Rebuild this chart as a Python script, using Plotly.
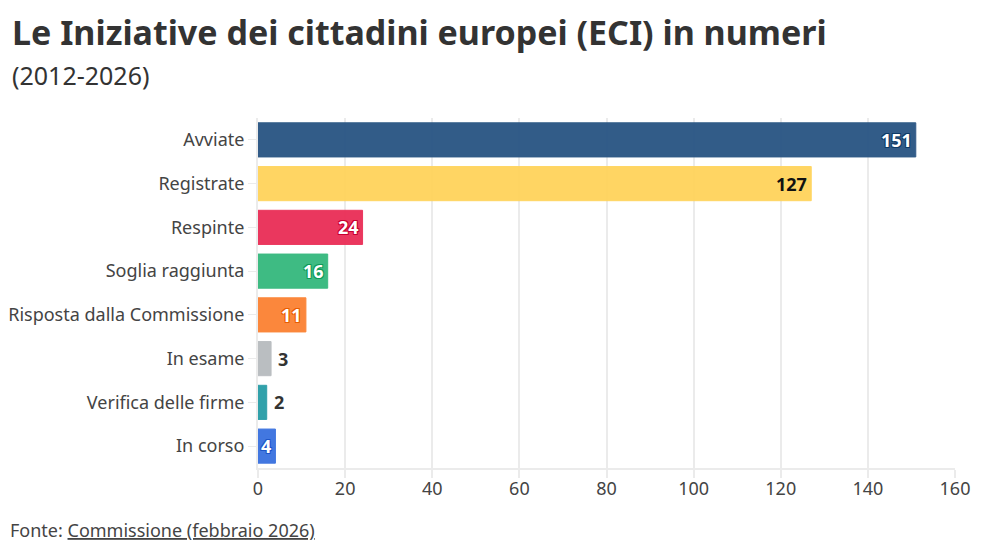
import plotly.graph_objects as go

categories = ["Avviate", "Registrate", "Respinte", "Soglia raggiunta",
              "Risposta dalla Commissione", "In esame", "Verifica delle firme", "In corso"]
values = [151, 127, 24, 16, 11, 3, 2, 4]
colors = ["#2c5785", "#ffd45e", "#ea3159", "#38b97f", "#fb8436", "#b8bcc0", "#2b9ea8", "#3c73e0"]
label_colors = ["#ffffff", "#111111", "#ffffff", "#ffffff", "#ffffff", "#333333", "#333333", "#ffffff"]
label_shadows = ["#0d3a66", "none", "#c8002f", "#0f9a58", "#e85d00", "none", "none", "#1d55c8"]
label_inside = [True, True, True, True, True, False, False, True]
x_ticks = [0, 20, 40, 60, 80, 100, 120, 140, 160]

FONT = "Noto Sans"
W, H = 979, 545          # page body has an 8px margin inside the 987x553 window
L, R, T, B = 250, 32, 110, 85
PW, PH = W - L - R, H - T - B

fig = go.Figure(go.Bar(
    x=values, y=categories, orientation="h",
    marker=dict(color=colors, line=dict(color=colors, width=1)),
    opacity=0.97,
    hoverinfo="skip",
))

annotations = []
for c, v, lc, sh, ins in zip(categories, values, label_colors, label_shadows, label_inside):
    s = sh
    if sh != "none":
        s = f"1px 1px 0 {sh}, -1px -1px 0 {sh}, 1px -1px 0 {sh}, -1px 1px 0 {sh}"
    annotations.append(dict(
        x=v, y=c, xref="x", yref="y", text=f"<b>{v}</b>", showarrow=False,
        xanchor="right" if ins else "left", xshift=-2 if ins else 5,
        font=dict(family=FONT, size=18, color=lc, shadow=s),
    ))

def px_x(px):
    return (px - L) / PW

def px_y(py):
    return (H - B - py) / PH

annotations.append(dict(
    text="<b>Le Iniziative dei cittadini europei (ECI) in numeri</b>",
    xref="paper", yref="paper", x=px_x(2), y=px_y(24), xanchor="left", yanchor="middle",
    showarrow=False, font=dict(family=FONT, size=34, color="#333333"),
))
annotations.append(dict(
    text="(2012-2026)",
    xref="paper", yref="paper", x=px_x(2), y=px_y(67), xanchor="left", yanchor="middle",
    showarrow=False, font=dict(family=FONT, size=25, color="#333333"),
))
annotations.append(dict(
    text="Fonte: <u>Commissione (febbraio 2026)</u>", xref="paper", yref="paper",
    x=px_x(0), y=px_y(522), xanchor="left", yanchor="middle", showarrow=False,
    font=dict(family=FONT, size=18, color="#444444"),
))

fig.update_layout(
    width=W, height=H,
    margin=dict(l=L, r=R, t=T, b=B, autoexpand=False),
    paper_bgcolor="white", plot_bgcolor="white",
    bargap=0.22,
    showlegend=False,
    annotations=annotations,
    xaxis=dict(
        range=[0, 160], tickvals=x_ticks, showgrid=True, gridcolor="#ebebeb", gridwidth=2,
        zeroline=False, showline=True, linecolor="#ebebeb", linewidth=2,
        ticks="outside", ticklen=8, tickcolor="#ebebeb", tickwidth=2,
        ticklabelstandoff=-5, automargin=False,
        tickfont=dict(family=FONT, size=18, color="#444444"), fixedrange=True,
    ),
    yaxis=dict(
        categoryorder="array", categoryarray=categories, autorange="reversed",
        showline=True, linecolor="#ebebeb", linewidth=2,
        ticks="outside", ticklen=8, tickcolor="#ebebeb", tickwidth=1,
        automargin=False,
        tickfont=dict(family=FONT, size=18, color="#444444"), fixedrange=True,
    ),
)

fig.write_html("out.html")
